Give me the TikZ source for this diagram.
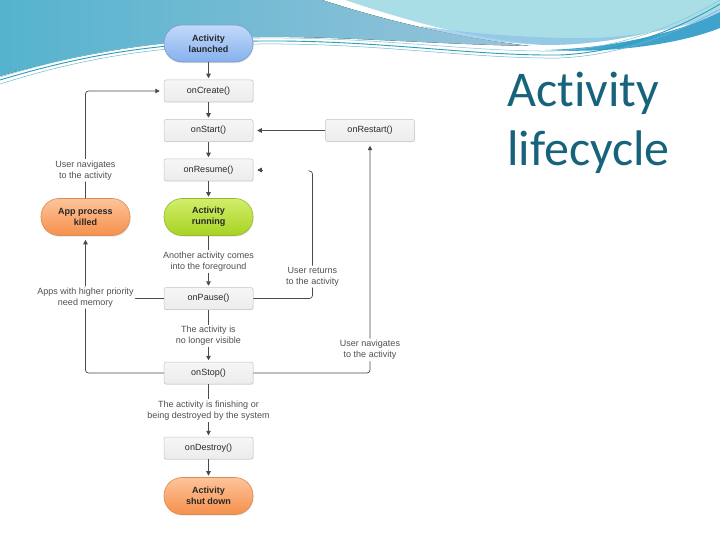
\documentclass[tikz,border=0pt]{standalone}
\usepackage{fontspec}
\setmainfont{Liberation Sans}
\newfontfamily\titlefont[Ligatures=NoCommon]{Carlito}
\usetikzlibrary{arrows.meta,shadows,calc}
\definecolor{bannerA}{HTML}{55B3CE}
\definecolor{bannerB}{HTML}{98C4DA}
\definecolor{cyanTop}{HTML}{A9DEE7}
\definecolor{cyanBot}{HTML}{8CC2E6}
\definecolor{stripcol}{HTML}{3FA3CC}
\definecolor{wavecol}{HTML}{2A9DB8}
\definecolor{bluetop}{HTML}{C2DAFA}
\definecolor{bluebot}{HTML}{86B0EE}
\definecolor{bluebd}{HTML}{7A98C8}
\definecolor{greentop}{HTML}{D2EE6A}
\definecolor{greenbot}{HTML}{A6D323}
\definecolor{greenbd}{HTML}{98B830}
\definecolor{orangetop}{HTML}{FDC49A}
\definecolor{orangebot}{HTML}{F6904C}
\definecolor{orangebd}{HTML}{D98A55}
\definecolor{boxtop}{HTML}{F6F6F6}
\definecolor{boxbot}{HTML}{ECECEC}
\definecolor{boxborder}{HTML}{C4C4C4}
\definecolor{linecol}{HTML}{4A4A4A}
\definecolor{lbltext}{HTML}{505050}
\definecolor{boxtext}{HTML}{2A2A2A}
\definecolor{titlecol}{HTML}{17637C}
\begin{document}
\begin{tikzpicture}[x=1pt,y=-1pt,
  conn/.style={draw=linecol, line width=0.7pt},
  arr/.style={conn, -{Triangle[length=4.5pt,width=4.5pt]}, shorten >=1.5pt},
  looparr/.style={arr, shorten >=4pt, rounded corners=3pt},
  box/.style={draw=boxborder, line width=0.5pt, top color=boxtop, bottom color=boxbot,
    rounded corners=2pt, minimum width=89pt, minimum height=22pt, inner sep=0pt,
    font=\fontsize{9}{11}\selectfont, text=boxtext,
    drop shadow={opacity=0.12,shadow xshift=0.5pt,shadow yshift=-0.8pt}},
  pill/.style={line width=0.6pt, rounded corners=18pt, minimum width=89pt, minimum height=37pt,
    inner sep=0pt, align=center, font=\bfseries\fontsize{9}{11}\selectfont, text=black!85,
    drop shadow={opacity=0.2,shadow xshift=0.6pt,shadow yshift=-1.2pt}},
  lbl/.style={fill=white, inner sep=1.5pt, align=center, font=\fontsize{9}{11}\selectfont, text=lbltext},
  titletext/.style={anchor=base west, inner sep=0pt, font=\titlefont\fontsize{50}{60}\selectfont, text=titlecol},
]
\useasboundingbox (0,0) rectangle (720,540);
\fill[white] (0,0) rectangle (720,540);

% banner
\fill[left color=bannerA, right color=bannerB]
  (0,0) -- (322,0) .. controls (390,22) and (460,38) .. (530,46)
  .. controls (430,44) and (340,36) .. (260,37)
  .. controls (180,38) and (90,50) .. (0,76) -- cycle;
\fill[cyanTop]
  (345,0) .. controls (420,25) and (480,40) .. (545,45)
  .. controls (620,45) and (685,25) .. (720,8) -- (720,0) -- cycle;
\fill[cyanBot, opacity=0.7]
  (420,26) .. controls (460,38) and (500,43) .. (545,45)
  .. controls (620,45) and (685,25) .. (720,8) -- (720,14)
  .. controls (680,30) and (620,40) .. (560,38)
  .. controls (500,36) and (460,32) .. (420,26) -- cycle;
\fill[stripcol]
  (545,50) .. controls (620,48) and (685,30) .. (720,12) -- (720,28)
  .. controls (685,42) and (620,54) .. (545,50) -- cycle;
\draw[wavecol, line width=0.9pt]
  (0,80) .. controls (80,56) and (150,43) .. (260,41)
  .. controls (380,40) and (470,56) .. (560,55)
  .. controls (630,52) and (690,22) .. (720,4);
\draw[wavecol!70, line width=0.5pt]
  (0,84) .. controls (80,59) and (150,46) .. (260,44)
  .. controls (380,43) and (470,59) .. (560,58)
  .. controls (630,55) and (690,26) .. (720,9);
\draw[wavecol!60, line width=0.5pt]
  (0,77) .. controls (80,53) and (150,40) .. (260,38)
  .. controls (380,37) and (470,52) .. (555,51)
  .. controls (630,48) and (690,18) .. (720,0);

% nodes
\node[pill, draw=bluebd, top color=bluetop, bottom color=bluebot] (launched) at (208.5,43.5) {Activity\\launched};
\node[box] (create) at (208.5,91) {onCreate()};
\node[box] (start) at (208.5,130.5) {onStart()};
\node[box] (restart) at (370,130.5) {onRestart()};
\node[box] (resume) at (208.5,170) {onResume()};
\node[pill, draw=greenbd, top color=greentop, bottom color=greenbot] (running) at (208.5,217) {Activity\\running};
\node[pill, draw=orangebd, top color=orangetop, bottom color=orangebot] (killed) at (85.5,217) {App process\\killed};
\node[box] (pause) at (208.5,298.5) {onPause()};
\node[box] (stop) at (208.5,373) {onStop()};
\node[box] (destroy) at (208.5,448) {onDestroy()};
\node[pill, draw=orangebd, top color=orangetop, bottom color=orangebot] (shutdown) at (208.5,496) {Activity\\shut down};

% main chain
\draw[arr] (launched) -- (create);
\draw[arr] (create) -- (start);
\draw[arr] (start) -- (resume);
\draw[arr] (resume) -- (running);
\draw[arr] (running) -- node[lbl]{Another activity comes\\into the foreground} (pause);
\draw[arr] (pause) -- node[lbl]{The activity is\\no longer visible} (stop);
\draw[arr] (stop) -- node[lbl]{The activity is finishing or\\being destroyed by the system} (destroy);
\draw[arr] (destroy) -- (shutdown);

% right loops
\draw[arr, shorten >=4pt] (restart) -- (start);
\draw[looparr] (stop.east) -| node[lbl, pos=0.55]{User navigates\\to the activity} (restart.south);
\coordinate (ret) at (312.5,171);
\draw[conn, rounded corners=3pt] (pause.east) -| node[lbl, pos=0.586]{User returns\\to the activity} (ret) -- ++(-2.5,0);
\coordinate (stub) at (263,170);
\draw[arr, shorten >=4pt] (stub) -- (resume.east);

% left loops
\draw[conn] (pause.west) -- (pause.west -| killed.south);
\draw[looparr] (stop.west) -- (stop.west -| killed.south) -- node[lbl, pos=0.55]{Apps with higher priority\\need memory} (killed.south);
\draw[looparr] (killed.north) -- node[lbl, pos=0.26]{User navigates\\to the activity} (killed.north |- create.west) -- (create.west);

% title
\node[titletext] (t1) at (507,107) {Activity};
\node[titletext] (t2) at (507,166) {lifecycle};
\end{tikzpicture}
\end{document}
